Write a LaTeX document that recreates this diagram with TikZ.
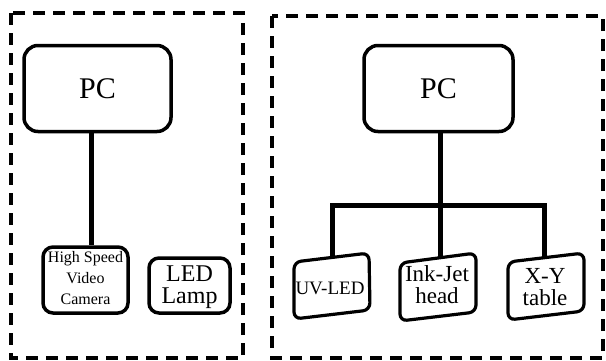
\documentclass[tikz,border=0pt]{standalone}
\usepackage{fontspec}
\setmainfont{Liberation Serif}
\begin{document}
\begin{tikzpicture}[x=1pt,y=-1pt,
  frame/.style={draw=black,line width=3.5pt,dash pattern=on 12pt off 8pt},
  box/.style={draw=black,line width=3.5pt,rounded corners=14pt,align=center,inner sep=0pt},
  sbox/.style={draw=black,line width=3.2pt,rounded corners=7pt},
  lbl/.style={align=center,inner sep=0pt},
  conn/.style={draw=black,line width=5pt}]
\useasboundingbox (0,0) rectangle (606,360);
% dashed frames
\draw[frame] (11,13) rectangle (243,358);
\draw[frame] (272,16) rectangle (603,358);
% left part
\node[box,minimum width=147pt,minimum height=86pt,font=\rmfamily\fontsize{30}{32}\selectfont] (pcl) at (97.5,88.5) {PC};
\node[box,rounded corners=10pt,minimum width=85pt,minimum height=66pt] (cam) at (85.5,280) {};
\node[lbl,font=\rmfamily\fontsize{16}{21}\selectfont] (camtxt) at (85.5,278.5) {High Speed\\Video\\Camera};
\node[box,rounded corners=10pt,minimum width=81pt,minimum height=55pt] (led) at (189.5,285.5) {};
\node[lbl,font=\rmfamily\fontsize{24}{22}\selectfont] (ledtxt) at (189.5,287) {LED\\Lamp};
\draw[conn] (pcl.south -| 91,0) -- (cam.north -| 91,0);
% right part
\node[box,minimum width=149pt,minimum height=86pt,font=\rmfamily\fontsize{30}{32}\selectfont] (pcr) at (438.5,88.5) {PC};
% slanted boxes
\draw[sbox] (294,262) -- (369,253) -- (370,310) -- (294,319) -- cycle;
\node[lbl,font=\rmfamily\fontsize{19}{20}\selectfont] (uv) at (330,288.5) {UV-LED};
\draw[sbox] (400,263) -- (476,253) -- (476,312) -- (400,321) -- cycle;
\node[lbl,font=\rmfamily\fontsize{23}{22}\selectfont] (ink) at (437,285) {Ink-Jet\\head};
\draw[sbox] (508,262) -- (584,253) -- (584,311) -- (508,320) -- cycle;
\node[lbl,font=\rmfamily\fontsize{23}{22}\selectfont] (xy) at (545,287) {X-Y\\table};
\coordinate (uvtop) at (332,258);
\coordinate (inktop) at (440,258);
\coordinate (xytop) at (544,258);
\coordinate (jn) at (440,205);
\draw[conn] (pcr.south -| jn) -- (jn);
\draw[conn,line cap=butt] (uvtop) |- (jn) -| (xytop);
\draw[conn] (jn) -- (inktop);
\end{tikzpicture}
\end{document}
